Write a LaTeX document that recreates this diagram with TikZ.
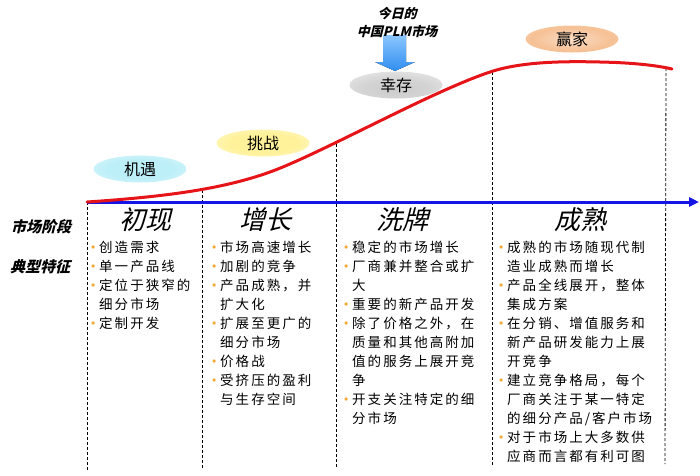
\documentclass[tikz,border=0pt]{standalone}
\usepackage{fontspec}
\usetikzlibrary{shapes.geometric,arrows.meta}
\newfontfamily\cjk{Noto Sans CJK SC}
\newfontfamily\cjksp[LetterSpace=15]{Noto Sans CJK SC}
\newfontfamily\cjkit[FakeSlant=0.25]{Noto Sans CJK SC}
\definecolor{axisblue}{HTML}{1414E6}
\definecolor{curvered}{HTML}{E61419}
\definecolor{dotc}{HTML}{F0A830}
\definecolor{ecyan}{HTML}{BDEFF8}
\definecolor{eyellow}{HTML}{FFF29A}
\definecolor{egray}{HTML}{CCCCCC}
\definecolor{eorange}{HTML}{F6C094}
\definecolor{arrtop}{HTML}{8CC6FF}
\definecolor{arrbot}{HTML}{2F8EF0}
\pgfdeclareradialshading{shcyan}{\pgfpoint{0bp}{0bp}}{color(0bp)=(ecyan);color(18bp)=(ecyan);color(50bp)=(ecyan!12!white)}
\pgfdeclareradialshading{shyellow}{\pgfpoint{0bp}{0bp}}{color(0bp)=(eyellow);color(18bp)=(eyellow);color(50bp)=(eyellow!12!white)}
\pgfdeclareradialshading{shgray}{\pgfpoint{0bp}{-10bp}}{color(0bp)=(egray);color(18bp)=(egray!85!white);color(50bp)=(egray!12!white)}
\pgfdeclareradialshading{shorange}{\pgfpoint{0bp}{0bp}}{color(0bp)=(eorange!55!white);color(22bp)=(eorange);color(50bp)=(eorange!20!white)}
\newcommand\bu{\makebox[8pt][l]{\textcolor{dotc}{\raisebox{3pt}{\fontsize{8}{8}\selectfont$\bullet$}}}}
\newcommand\ind{\hspace*{8pt}}
\begin{document}
\begin{tikzpicture}[x=1pt,y=-1pt,
  blob/.style={ellipse, minimum width=93pt, minimum height=27pt, inner sep=0pt, font=\cjk\fontsize{16}{16}\selectfont},
  stagetitle/.style={inner sep=0pt, font=\cjkit\fontsize{26}{26}\selectfont},
  sidelabel/.style={inner sep=0pt, font=\cjkit\bfseries\fontsize{15}{15}\selectfont},
  col/.style={anchor=north west, align=left, inner sep=0pt, font=\cjksp\fontsize{13.5}{19}\selectfont},
  divider/.style={black, line width=0.8pt, dash pattern=on 3pt off 2pt},
  axisline/.style={axisblue, line width=3pt, -{Triangle[length=10pt,width=9pt]}},
  curveline/.style={curvered, line width=3pt, line cap=round},
  note/.style={inner sep=0pt, font=\cjkit\bfseries\fontsize{13}{13}\selectfont}
]
\useasboundingbox (0,0) rectangle (700,475);

% dividers
\coordinate (d1t) at (87,202);  \coordinate (d1b) at (87,470);
\coordinate (d2t) at (202,190); \coordinate (d2b) at (202,468);
\coordinate (d3t) at (336,144); \coordinate (d3b) at (336,468);
\coordinate (d4t) at (492,72);  \coordinate (d4b) at (492,466);
\coordinate (d5t) at (666,68);  \coordinate (d5b) at (665,464);
\foreach \i in {1,...,5} {\draw[divider] (d\i t) -- (d\i b);}

% axis
\coordinate (ax0) at (87,202);
\coordinate (ax1) at (699,202);
\draw[axisline] (ax0) -- (ax1);

% curve
\coordinate (cv0) at (87,202);
\coordinate (cv1) at (270,172);
\coordinate (cv2) at (490,72);
\coordinate (cv3) at (600,62);
\coordinate (cv4) at (672,69);
\draw[curveline] (cv0) .. controls (160,197) and (220,190) .. (cv1)
  .. controls (320,154) and (430,92) .. (cv2)
  .. controls (520,62) and (560,61) .. (cv3)
  .. controls (630,62.6) and (655,65) .. (cv4);

% ellipses
\node[blob, shading=shcyan] (jiyu) at (140,169) {机遇};
\node[blob, shading=shyellow] (tiaozhan) at (263,143) {挑战};
\node[blob, shading=shgray] (xingcun) at (396,85) {幸存};
\node[blob, shading=shorange] (yingjia) at (572,39) {赢家};

% block arrow
\fill[top color=arrtop, bottom color=arrbot] (383,35) -- (406,35) -- (406,62) -- (415,62) -- (395,71) -- (375,62) -- (383,62) -- cycle;
\node[note] (today) at (397,14) {今日的};
\node[note] (plm) at (397,31) {中国PLM市场};

% side labels
\node[sidelabel] (stage) at (41,227) {市场阶段};
\node[sidelabel] (feat) at (40,267) {典型特征};

% stage titles
\node[stagetitle] (t1) at (145,220) {初现};
\node[stagetitle] (t2) at (265,220) {增长};
\node[stagetitle] (t3) at (402,220) {洗牌};
\node[stagetitle] (t4) at (580,220) {成熟};

% columns
\node[col] (c1) at (91,241) {\bu 创造需求\\ \bu 单一产品线\\ \bu 定位于狭窄的\\ \ind 细分市场\\ \bu 定制开发};
\node[col] (c2) at (212,241) {\bu 市场高速增长\\ \bu 加剧的竞争\\ \bu 产品成熟，并\\ \ind 扩大化\\ \bu 扩展至更广的\\ \ind 细分市场\\ \bu 价格战\\ \bu 受挤压的盈利\\ \ind 与生存空间};
\node[col] (c3) at (344,241) {\bu 稳定的市场增长\\ \bu 厂商兼并整合或扩\\ \ind 大\\ \bu 重要的新产品开发\\ \bu 除了价格之外，在\\ \ind 质量和其他高附加\\ \ind 值的服务上展开竞\\ \ind 争\\ \bu 开支关注特定的细\\ \ind 分市场};
\node[col] (c4) at (499,241) {\bu 成熟的市场随现代制\\ \ind 造业成熟而增长\\ \bu 产品全线展开，整体\\ \ind 集成方案\\ \bu 在分销、增值服务和\\ \ind 新产品研发能力上展\\ \ind 开竞争\\ \bu 建立竞争格局，每个\\ \ind 厂商关注于某一特定\\ \ind 的细分产品/客户市场\\ \bu 对于市场上大多数供\\ \ind 应商而言都有利可图};
\end{tikzpicture}
\end{document}
